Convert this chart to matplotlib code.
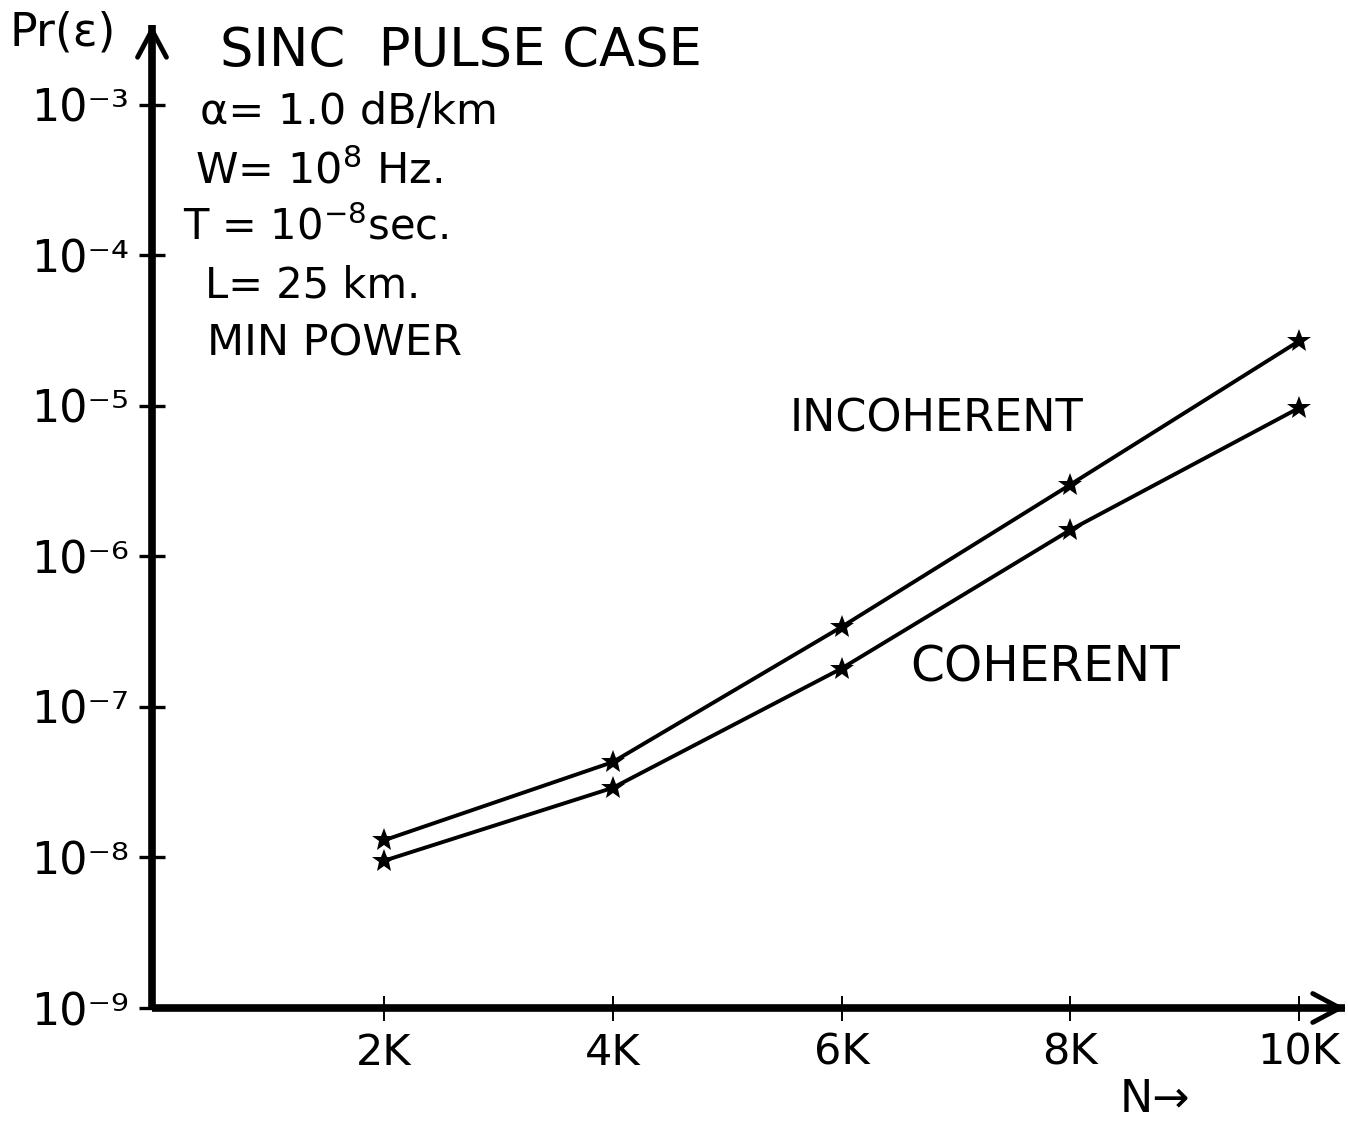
import matplotlib

matplotlib.use("Agg")
import matplotlib.pyplot as plt
from matplotlib.ticker import NullLocator

# Pr(error) against number of users N (in thousands), sinc pulse, min power
n_thousands = [2, 4, 6, 8, 10]
pr_incoherent = [1.3e-8, 4.3e-8, 3.4e-7, 3.0e-6, 2.7e-5]
pr_coherent = [9.5e-9, 2.9e-8, 1.8e-7, 1.5e-6, 9.7e-6]
x_tick_labels = ["2K", "4K", "6K", "8K", "10K"]
y_decades = [-9, -8, -7, -6, -5, -4, -3]

W, H = 1348, 1121
plt.rcParams.update({"font.family": "DejaVu Sans", "mathtext.fontset": "dejavusans"})

fig = plt.figure(figsize=(W / 100, H / 100), dpi=100)
fig.patch.set_facecolor("white")


def px(x, y):
    """pixel position (from top-left) -> figure fraction"""
    return x / W, 1 - y / H


ax = fig.add_axes([152 / W, 1 - 1008 / H, 1193 / W, 983 / H])
ax.set_yscale("log")
ax.set_xlim(-0.026, 10.40)
ax.set_ylim(1e-9, 10 ** -2.47)

for series in (pr_incoherent, pr_coherent):
    ax.plot(n_thousands, series, color="black", lw=2.8, marker="*",
            ms=18, mew=0, clip_on=False)

# axes: heavy hand-drawn lines with open arrow heads
for side in ("top", "right"):
    ax.spines[side].set_visible(False)
for side in ("left", "bottom"):
    ax.spines[side].set_linewidth(5.5)
    ax.spines[side].set_capstyle("butt")

arrow = dict(arrowstyle="->,head_length=0.75,head_width=0.4", lw=3.5,
             color="black", shrinkA=0, shrinkB=0, mutation_scale=26)
ax.annotate("", xy=(0, 1.0), xycoords="axes fraction", xytext=(0, 0.96),
            arrowprops=arrow, annotation_clip=False)
ax.annotate("", xy=(1.0, 0), xycoords="axes fraction", xytext=(0.97, 0),
            arrowprops=arrow, annotation_clip=False)

# decade labels written compactly as 10⁻ⁿ
sup = str.maketrans("-0123456789", "⁻⁰¹²³⁴⁵⁶⁷⁸⁹")
ax.set_yticks([10.0 ** d for d in y_decades])
ax.set_yticklabels([f"10{str(d).translate(sup)}" for d in y_decades])
ax.yaxis.set_minor_locator(NullLocator())
ax.tick_params(axis="y", direction="inout", length=19, width=2.4,
               pad=7, labelsize=32)

ax.set_xticks(n_thousands)
ax.set_xticklabels(x_tick_labels)
ax.tick_params(axis="x", direction="inout", length=18, width=1.4,
               pad=8, labelsize=31)

# annotations
txt = dict(ha="left", va="baseline", color="black")
fig.text(*px(10, 45), "Pr(ε)", fontsize=33, **txt)
fig.text(*px(220, 66), "SINC  PULSE CASE", fontsize=38, **txt)
fig.text(*px(200, 124), "α= 1.0 dB/km", fontsize=31, **txt)
fig.text(*px(195, 184), "W= 10$^{8}$ Hz.", fontsize=31, **txt)
fig.text(*px(183, 239), "T = 10$^{-8}$sec.", fontsize=30, **txt)
fig.text(*px(205, 297), "L= 25 km.", fontsize=30, **txt)
fig.text(*px(207, 356), "MIN POWER", fontsize=31, **txt)
fig.text(*px(790, 432), "INCOHERENT", fontsize=32, **txt)
fig.text(*px(910, 681), "COHERENT", fontsize=35, **txt)
fig.text(*px(1120, 1112), "N→", fontsize=32, **txt)

fig.savefig("out.png", dpi=100, facecolor="white")
